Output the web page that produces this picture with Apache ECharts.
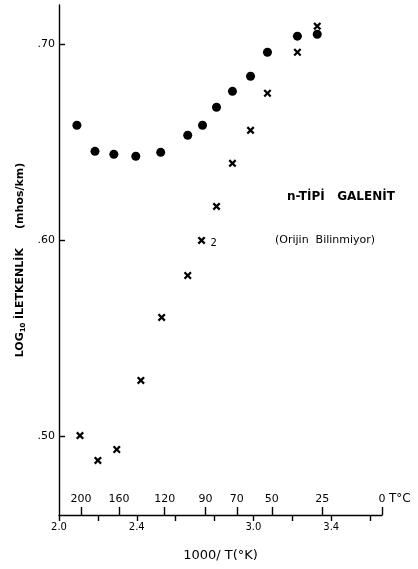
<!DOCTYPE html>
<html>
<head>
<meta charset="utf-8">
<script src="https://cdn.jsdelivr.net/npm/echarts@6/dist/echarts.min.js"></script>
<style>html,body{margin:0;padding:0;background:#fff;}#c{width:418px;height:569px;}</style>
</head>
<body>
<div id="c"></div>
<script>
// 1000/T (K) positions and log10 conductivity values
const dotX   = [2.092, 2.185, 2.282, 2.395, 2.523, 2.662, 2.738, 2.810, 2.892, 2.985, 3.072, 3.226, 3.328];
const dotY   = [0.6587, 0.6454, 0.6439, 0.6429, 0.6449, 0.6536, 0.6587, 0.6679, 0.6760, 0.6837, 0.6959, 0.7041, 0.7051];
const crossX = [2.108, 2.200, 2.297, 2.421, 2.528, 2.662, 2.733, 2.810, 2.892, 2.985, 3.072, 3.226, 3.328];
const crossY = [0.5005, 0.4878, 0.4934, 0.5286, 0.5607, 0.5821, 0.6000, 0.6173, 0.6393, 0.6561, 0.6750, 0.6959, 0.7092];
const crossLabelIndex = 6; const crossLabelText = '2';

const invTTicks  = [2.0, 2.2, 2.4, 2.6, 2.8, 3.0, 3.2, 3.4, 3.6];
const invTLabels = [2.0, 2.4, 3.0, 3.4];
const celsiusTicks = [200, 160, 120, 90, 70, 50, 25, 0];
const yTicks = [0.50, 0.60, 0.70];

const xMin = 2.0, xMax = 1000 / 273.15;
const yMin = 0.46, yMax = 0.72;
const toInv = c => 1000 / (c + 273.15);

const FONT = '"DejaVu Sans", sans-serif';
const chart = echarts.init(document.getElementById('c'), null, {renderer: 'canvas'});
const crossPath = 'path://M0,2L2,0L5,3L8,0L10,2L7,5L10,8L8,10L5,7L2,10L0,8L3,5Z';

chart.setOption({
  animation: false,
  backgroundColor: '#fff',
  grid: {left: 59, right: 36, top: 5, bottom: 54},
  xAxis: [
    {
      type: 'value', min: xMin, max: xMax, position: 'bottom',
      name: '1000/ T(°K)', nameLocation: 'middle', nameGap: 34,
      nameTextStyle: {color: '#000', fontFamily: FONT, fontSize: 13},
      axisLine: {show: true, lineStyle: {color: '#000', width: 1.4}},
      axisTick: {show: true, inside: false, length: 6, lineStyle: {color: '#000', width: 1.4}, customValues: invTTicks},
      axisLabel: {show: true, color: '#000', fontFamily: FONT, fontSize: 10, margin: 7,
        customValues: invTLabels, formatter: v => v.toFixed(1)},
      splitLine: {show: false}
    },
    {
      type: 'value', min: xMin, max: xMax, position: 'bottom',
      axisLine: {show: false},
      axisTick: {show: true, inside: true, length: 8, lineStyle: {color: '#000', width: 1.4},
        customValues: celsiusTicks.map(toInv)},
      axisLabel: {show: true, inside: true, color: '#000', fontFamily: FONT, fontSize: 11, margin: 10,
        customValues: celsiusTicks.map(toInv), formatter: v => String(Math.round(1000 / v - 273.15))},
      splitLine: {show: false}
    }
  ],
  yAxis: {
    type: 'value', min: yMin, max: yMax,
    name: '{a|LOG}{s|10} {a|İLETKENLİK     (mhos/km)}',
    nameLocation: 'middle', nameGap: 23, nameRotate: 90,
    nameTextStyle: {color: '#000', fontFamily: FONT, fontSize: 11,
      rich: {a: {fontFamily: FONT, fontSize: 11, fontWeight: 'bold', color: '#000'},
             s: {fontFamily: FONT, fontSize: 7, fontWeight: 'bold', color: '#000', verticalAlign: 'bottom', padding: [6, 0, 0, 0]}}},
    axisLine: {show: true, lineStyle: {color: '#000', width: 1.4}},
    axisTick: {show: true, inside: true, length: 6, lineStyle: {color: '#000', width: 1.4}, customValues: yTicks},
    axisLabel: {show: true, color: '#000', fontFamily: FONT, fontSize: 11, margin: 4,
      customValues: yTicks, formatter: v => v.toFixed(2).replace(/^0/, '')},
    splitLine: {show: false}
  },
  series: [
    {
      type: 'scatter', name: 'dots', symbol: 'circle', symbolSize: 9,
      itemStyle: {color: '#000', opacity: 1},
      data: dotX.map((x, i) => [x, dotY[i]])
    },
    {
      type: 'scatter', name: 'crosses', symbol: crossPath, symbolSize: 8,
      itemStyle: {color: '#000', opacity: 1},
      data: crossX.map((x, i) => i === crossLabelIndex
        ? {value: [x, crossY[i]], label: {show: true, position: 'right', distance: 5, formatter: crossLabelText,
            color: '#000', fontFamily: FONT, fontSize: 10, offset: [0, 3]}}
        : [x, crossY[i]])
    }
  ],
  graphic: [
    {type: 'text', left: 287, top: 191, style: {text: 'n-TİPİ   GALENİT', fill: '#000', font: 'bold 12px ' + FONT}},
    {type: 'text', left: 275, top: 235, style: {text: '(Orijin  Bilinmiyor)', fill: '#000', font: '11px ' + FONT}},
    {type: 'text', left: 389, top: 493, style: {text: 'T°C', fill: '#000', font: '12px ' + FONT}}
  ]
});
</script>
</body>
</html>
